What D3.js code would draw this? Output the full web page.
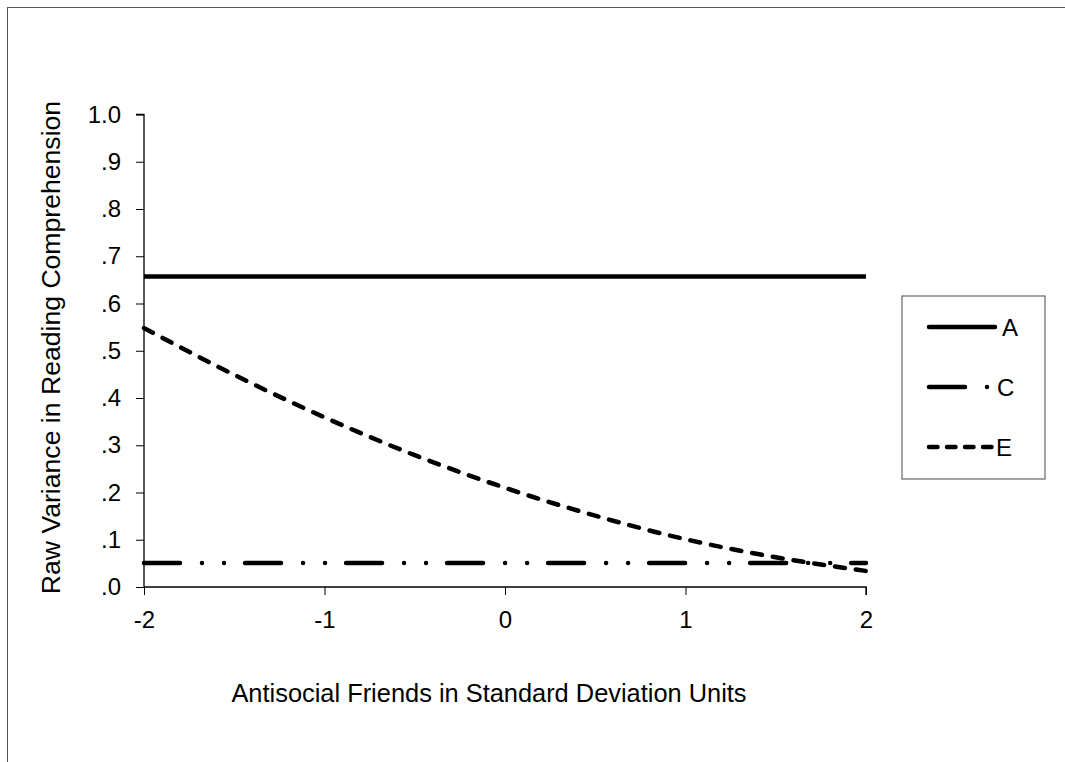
<!DOCTYPE html>
<html><head><meta charset="utf-8">
<script src="https://cdn.jsdelivr.net/npm/d3@7"></script>
<style>body{margin:0;background:#fff}svg{display:block}text{font-family:"Liberation Sans",Arial,sans-serif;fill:#000}</style>
</head><body>
<script>
const xValues = [-2, -1.5, -1, -0.5, 0, 0.5, 1, 1.5, 2];
const seriesA = [0.657, 0.657, 0.657, 0.657, 0.657, 0.657, 0.657, 0.657, 0.657];
const seriesC = [0.051, 0.051, 0.051, 0.051, 0.051, 0.051, 0.051, 0.051, 0.051];
const seriesE = [0.548, 0.449, 0.359, 0.279, 0.210, 0.151, 0.101, 0.063, 0.034];
const seriesNames = ["A", "C", "E"];
const xTicks = [-2, -1, 0, 1, 2];
const yTicks = [0, 0.1, 0.2, 0.3, 0.4, 0.5, 0.6, 0.7, 0.8, 0.9, 1.0];
const xTitle = "Antisocial Friends in Standard Deviation Units";
const yTitle = "Raw Variance in Reading Comprehension";

const W = 1065, H = 762;
const FONT = "Liberation Sans, Arial, sans-serif";
const svg = d3.select("body").append("svg").attr("width", W).attr("height", H);
svg.append("rect").attr("x", 7.5).attr("y", 7.5).attr("width", W + 10).attr("height", H + 10)
  .attr("fill", "none").attr("stroke", "#555").attr("stroke-width", 1);

const x = d3.scaleLinear().domain([-2, 2]).range([144, 866]);
const y = d3.scaleLinear().domain([0, 1]).range([587, 114.5]);

const yAxis = d3.axisLeft(y).tickValues(yTicks).tickSize(8).tickPadding(15)
  .tickFormat(d => d === 1 ? "1.0" : "." + Math.round(d * 10));
const gy = svg.append("g").attr("transform", `translate(${x.range()[0]},0)`).call(yAxis);
const xAxis = d3.axisBottom(x).tickValues(xTicks).tickSize(8).tickPadding(16)
  .tickFormat(d => String(d).replace("\u2212", "-"));
const gx = svg.append("g").attr("transform", `translate(0,${y(0)})`).call(xAxis);
[gy, gx].forEach(g => {
  g.attr("font-size", 24).attr("font-family", FONT);
  g.select(".domain").attr("stroke", "#000").attr("stroke-width", 1.3);
  g.selectAll(".tick line").attr("stroke", "#000").attr("stroke-width", 1);
  g.selectAll(".tick text").attr("font-size", 24).attr("font-family", FONT).attr("fill", "#000");
});
gy.select(".domain").attr("d", `M-8,${y(1)}H0V${y(0)}`);
gx.select(".domain").attr("d", `M${x(-2)},0H${x(2)}V8`);

svg.append("text").attr("x", 489).attr("y", 702).attr("text-anchor", "middle")
  .attr("font-size", 25.4).text(xTitle);
svg.append("text").attr("transform", "translate(60,347.5) rotate(-90)").attr("text-anchor", "middle")
  .attr("font-size", 26.6).text(yTitle);

const styles = {
  A: null,
  C: "36,22,0.01,22,0.01,21",
  E: "10,11"
};
const data = {A: seriesA, C: seriesC, E: seriesE};
const line = d3.line().x(d => x(d[0])).y(d => y(d[1])).curve(d3.curveMonotoneX);
seriesNames.forEach(n => {
  const pts = xValues.map((v, i) => [v, data[n][i]]);
  const p = svg.append("path").attr("d", line(pts)).attr("fill", "none")
    .attr("stroke", "#000").attr("stroke-width", 4.5)
    .attr("stroke-linecap", n === "A" ? "butt" : "round");
  if (styles[n]) p.attr("stroke-dasharray", styles[n]);
});

// legend
svg.append("rect").attr("x", 902).attr("y", 296).attr("width", 143).attr("height", 183)
  .attr("fill", "#fff").attr("stroke", "#666").attr("stroke-width", 1.2);
const legY = [327, 387, 447];
const legText = [1002, 997, 996];
seriesNames.forEach((n, i) => {
  const l = svg.append("line").attr("x1", 929).attr("x2", n === "E" ? 993 : 995)
    .attr("y1", legY[i]).attr("y2", legY[i])
    .attr("stroke", "#000").attr("stroke-width", 4.5).attr("stroke-linecap", "round");
  if (n === "C") l.attr("stroke-dasharray", "36,22,0.01,40");
  if (n === "E") l.attr("stroke-dasharray", "8.5,9.5");
  svg.append("text").attr("x", legText[i]).attr("y", legY[i] + 8.6)
    .attr("font-size", 24).text(n);
});
</script>
</body></html>
